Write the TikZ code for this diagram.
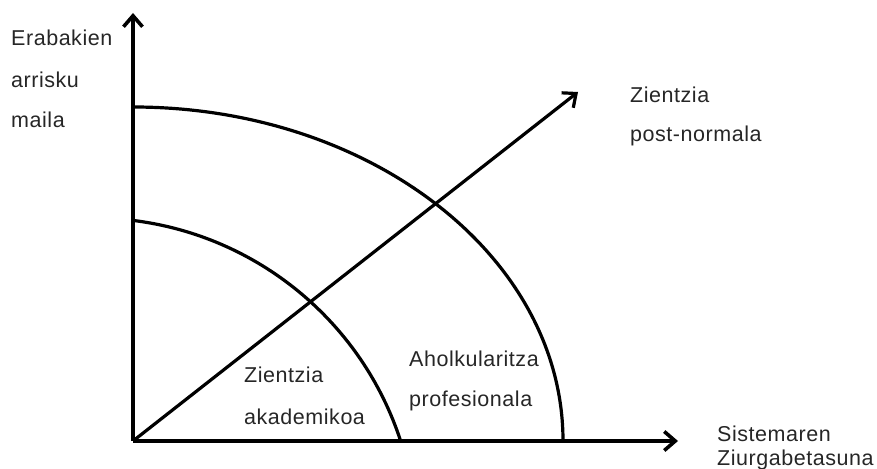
\documentclass[tikz,border=0pt]{standalone}
\usepackage{fontspec}
\setmainfont[LetterSpace=2.5]{Liberation Sans}
\usetikzlibrary{arrows.meta}

\begin{document}
\begin{tikzpicture}[x=1pt, y=1pt,
  every node/.style={font=\fontsize{21.5}{25}\selectfont, text=black!85, inner sep=0pt, anchor=base west},
  axis/.style={line width=3.6pt, -{Straight Barb[length=11pt, width=19pt]}},
  curve/.style={line width=3.2pt}]
\useasboundingbox (-133,-27) rectangle (744,441);
% ejeak
\coordinate (O) at (0,0);
\coordinate (Ytop) at (0,428);
\coordinate (Xend) at (545,0);
\coordinate (Dend) at (445,349);
\draw[axis] (O) -- (Ytop);
\draw[axis] (O) -- (Xend);
% kanpoko eta barruko arkuak
\draw[curve] (0,334) arc[start angle=90, end angle=0, x radius=430, y radius=334];
\draw[curve] (-39.5,-100) ++(83:323) arc[start angle=83, end angle=18, radius=323];
% diagonala
\draw[axis, line width=3.2pt] (O) -- (Dend);
% testuak
\node (risk1) at (-122,395) {Erabakien};
\node (risk2) at (-122,353) {arrisku};
\node (risk3) at (-122,313) {maila};
\node (post1) at (497,338) {Zientzia};
\node (post2) at (497,299) {post-normala};
\node (akad1) at (111,58) {Zientzia};
\node (akad2) at (111,16) {akademikoa};
\node (prof1) at (276,74) {Aholkularitza};
\node (prof2) at (276,34) {profesionala};
\node (unc1) at (584,-1) {Sistemaren};
\node (unc2) at (584,-24) {Ziurgabetasuna};
\end{tikzpicture}
\end{document}
